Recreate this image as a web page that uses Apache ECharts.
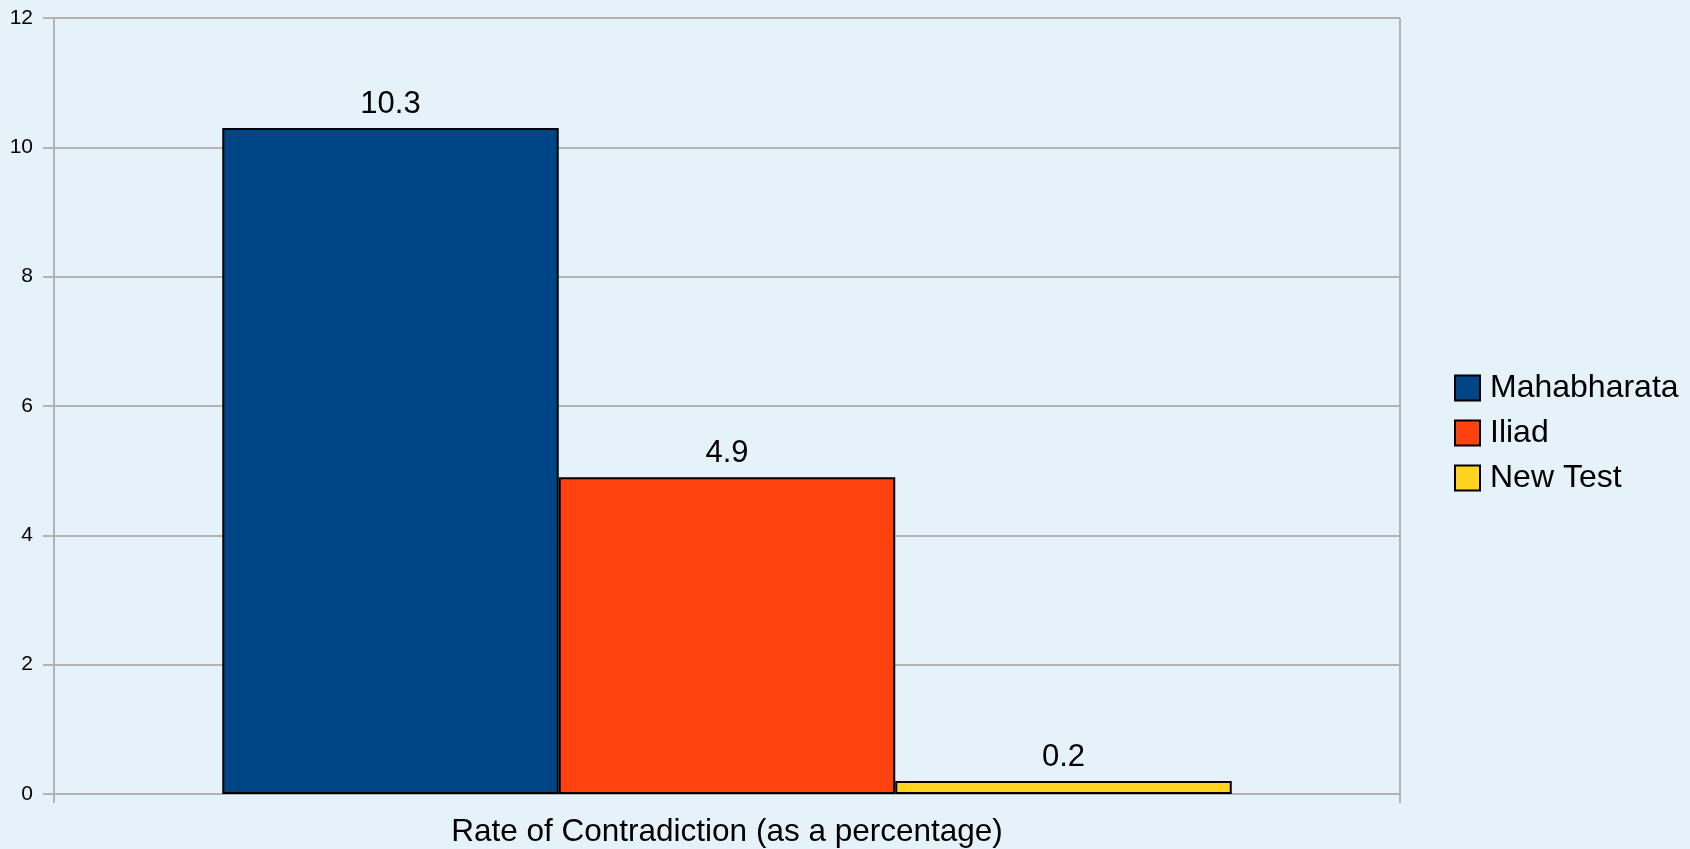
<!DOCTYPE html>
<html>
<head>
<meta charset="utf-8">
<script src="https://cdn.jsdelivr.net/npm/echarts@6/dist/echarts.min.js"></script>
<style>
html,body{margin:0;padding:0;background:#e6f2f9;}
#c{width:1690px;height:849px;}
</style>
</head>
<body>
<div id="c"></div>
<script>
const categories = ['Rate of Contradiction (as a percentage)'];
const seriesNames = ['Mahabharata', 'Iliad', 'New Test'];
const mahabharata = [10.3];
const iliad = [4.9];
const newTest = [0.2];
const yTicks = [0, 2, 4, 6, 8, 10, 12];

const colors = ['#004586', '#ff420e', '#ffd320'];
const font = 'Liberation Sans, Arial, sans-serif';
const grey = '#b3b3b3';

const chart = echarts.init(document.getElementById('c'), null, {renderer: 'canvas'});

function mk(name, data, color) {
  return {
    name: name,
    type: 'bar',
    data: data,
    barGap: '0%',
    barCategoryGap: '25%',
    itemStyle: {color: color, borderColor: '#000', borderWidth: 2},
    label: {
      show: true, position: 'top', distance: 8,
      fontFamily: font, fontSize: 31, color: '#000'
    }
  };
}

chart.setOption({
  backgroundColor: '#e6f2f9',
  animation: false,
  color: colors,
  grid: {left: 54, right: 290, top: 18, bottom: 55, containLabel: false, outerBoundsMode: 'none'},
  legend: {
    orient: 'vertical',
    left: 1449, top: 367,
    itemWidth: 25, itemHeight: 25, itemGap: 13,
    icon: 'rect',
    itemStyle: {borderColor: '#000', borderWidth: 2},
    textStyle: {fontFamily: font, fontSize: 32, color: '#000', lineHeight: 30, padding: [0,0,0,5]},
    data: seriesNames
  },
  xAxis: {
    type: 'category',
    data: categories,
    name: categories[0],
    nameLocation: 'middle',
    nameGap: 22,
    nameTextStyle: {fontFamily: font, fontSize: 31.5, color: '#000'},
    axisLine: {show: true, lineStyle: {color: grey, width: 2}},
    axisTick: {show: true, length: 9, lineStyle: {color: grey, width: 2}},
    axisLabel: {show: false},
    splitLine: {show: true, lineStyle: {color: grey, width: 2}}
  },
  yAxis: {
    type: 'value',
    min: yTicks[0], max: yTicks[yTicks.length - 1], interval: 2,
    axisLine: {show: true, lineStyle: {color: grey, width: 2}},
    axisTick: {show: true, length: 11, lineStyle: {color: grey, width: 2}},
    axisLabel: {margin: 21, fontFamily: font, fontSize: 21, color: '#000'},
    splitLine: {show: true, lineStyle: {color: grey, width: 2}}
  },
  series: [
    mk(seriesNames[0], mahabharata, colors[0]),
    mk(seriesNames[1], iliad, colors[1]),
    mk(seriesNames[2], newTest, colors[2])
  ]
});
</script>
</body>
</html>
